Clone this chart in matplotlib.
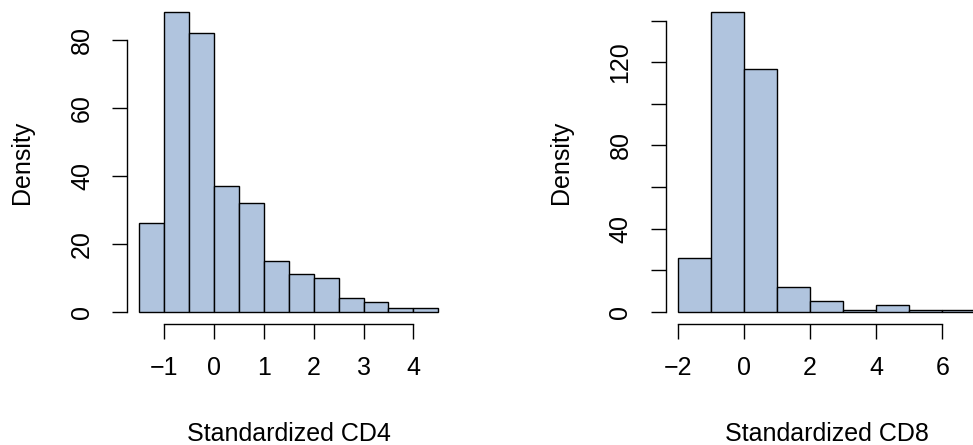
import numpy as np
import matplotlib
matplotlib.use('Agg')
matplotlib.rcParams['font.family'] = ['Liberation Sans', 'DejaVu Sans']
matplotlib.rcParams['axes.unicode_minus'] = True
import matplotlib.pyplot as plt

# CD4 ヒストグラム（幅 0.5）
cd4_edges = [-1.5, -1.0, -0.5, 0.0, 0.5, 1.0, 1.5, 2.0, 2.5, 3.0, 3.5, 4.0, 4.5]
cd4_counts = [26, 88, 82, 37, 32, 15, 11, 10, 4, 3, 1, 1]
cd4_xticks = [-1, 0, 1, 2, 3, 4]
cd4_yticks = [0, 20, 40, 60, 80]
cd4_ylabels = ['0', '20', '40', '60', '80']

# CD8 ヒストグラム（幅 1）
cd8_edges = [-2, -1, 0, 1, 2, 3, 4, 5, 6, 7]
cd8_counts = [26, 144, 117, 12, 5, 1, 3, 1, 1]
cd8_xticks = [-2, 0, 2, 4, 6]
cd8_yticks = [0, 20, 40, 60, 80, 100, 120, 140]
cd8_ylabels = ['0', '', '40', '', '80', '', '120', '']

FILL = '#B0C4DE'   # R の lightsteelblue
FS = 18

W, H = 973, 445
fig = plt.figure(figsize=(W / 100, H / 100), dpi=100)


def r_hist(rect, edges, counts, xticks, yticks, ylabels, xlabel):
    ax = fig.add_axes(rect)
    e = np.array(edges, dtype=float)
    ax.bar(e[:-1], counts, width=np.diff(e), align='edge', color=FILL,
           edgecolor='black', linewidth=1.0)
    # R 風に 4% 拡張
    xr = e[-1] - e[0]
    ax.set_xlim(e[0] - 0.04 * xr, e[-1] + 0.04 * xr)
    top = max(counts)
    ax.set_ylim(-0.04 * top, top * 1.04)
    for s in ('top', 'right'):
        ax.spines[s].set_visible(False)
    ax.spines['left'].set_bounds(yticks[0], yticks[-1])
    ax.spines['bottom'].set_bounds(xticks[0], xticks[-1])
    for s in ('left', 'bottom'):
        ax.spines[s].set_linewidth(1.0)
    ax.set_xticks(xticks)
    ax.set_xticklabels([f'{t:g}'.replace('-', '\u2212') for t in xticks])
    ax.set_yticks(yticks)
    ax.set_yticklabels(ylabels, rotation=90, va='center')
    ax.tick_params(axis='both', length=11, width=1.0, labelsize=FS, direction='out')
    ax.tick_params(axis='x', pad=12)
    ax.tick_params(axis='y', pad=13)
    ax.text(0.5, -0.363, xlabel, transform=ax.transAxes, ha='center',
            va='baseline', fontsize=FS)
    ax.text(-0.326, 0.5, 'Density', transform=ax.transAxes, rotation=90,
            ha='center', va='center', fontsize=FS)
    ax.set_clip_on(False)
    return ax


bot = (H - 323.7) / H
hgt = 323.2 / H
r_hist([127.3 / W, bot, 323.0 / W, hgt], cd4_edges, cd4_counts, cd4_xticks,
       cd4_yticks, cd4_ylabels, 'Standardized CD4')
r_hist([665.8 / W, bot, 321.7 / W, hgt], cd8_edges, cd8_counts, cd8_xticks,
       cd8_yticks, cd8_ylabels, 'Standardized CD8')

fig.savefig('out.png', dpi=100)
